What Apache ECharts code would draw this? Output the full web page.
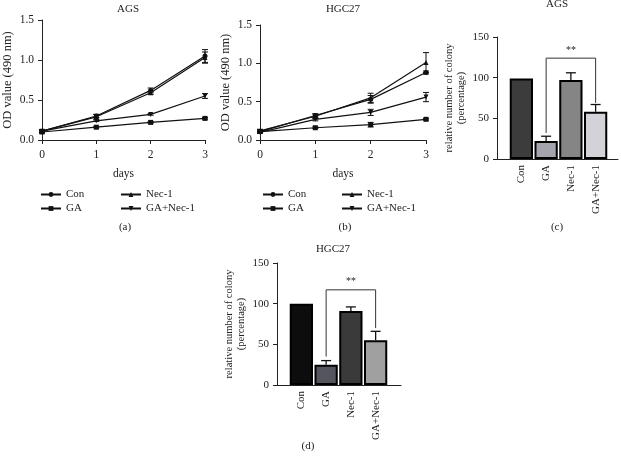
<!DOCTYPE html>
<html><head><meta charset="utf-8">
<script src="https://cdn.jsdelivr.net/npm/echarts@6/dist/echarts.min.js"></script>
<style>html,body{margin:0;padding:0;background:#fff}#c{width:621px;height:459px}</style>
</head><body><div id="c"></div>
<script>
// ---- data ----
const days = [0, 1, 2, 3];
const lineNames = ['Con', 'GA', 'Nec-1', 'GA+Nec-1'];
// panel (a) AGS
const aCon = [0.11, 0.30, 0.62, 1.05];
const aGA = [0.10, 0.16, 0.22, 0.27];
const aNec = [0.11, 0.29, 0.59, 1.03];
const aGANec = [0.11, 0.24, 0.32, 0.55];
const aConErr = [0.02, 0.02, 0.03, 0.08];
const aGAErr = [0.01, 0.01, 0.01, 0.01];
const aNecErr = [0.02, 0.03, 0.02, 0.07];
const aGANecErr = [0.01, 0.01, 0.01, 0.03];
// panel (b) HGC27
const bCon = [0.11, 0.32, 0.53, 0.88];
const bGA = [0.11, 0.16, 0.20, 0.27];
const bNec = [0.12, 0.31, 0.55, 1.01];
const bGANec = [0.10, 0.27, 0.36, 0.56];
const bConErr = [0.02, 0.02, 0.05, 0.02];
const bGAErr = [0.01, 0.01, 0.03, 0.01];
const bNecErr = [0.02, 0.03, 0.06, 0.13];
const bGANecErr = [0.01, 0.02, 0.04, 0.06];
// bar panels
const barCats = ['Con', 'GA', 'Nec-1', 'GA+Nec-1'];
const cVals = [99, 22, 97, 58];
const cErr = [0, 6, 9, 9];
const cBracket = [1, 3, 32, 69, 124]; // from cat, to cat, left end, right end, top
const dVals = [100, 25, 91, 55];
const dErr = [0, 5, 5, 11];
const dBracket = [1, 3, 35, 70, 117];
const cColors = ['#3c3c3c', '#a4a4ac', '#858585', '#d2d2d8'];
const dColors = ['#0d0d0d', '#55555d', '#3a3a3a', '#a0a0a0'];
const odTicks = [0, 0.5, 1.0, 1.5];
const barTicks = [0, 50, 100, 150];

const FONT = 'Liberation Serif';
const TXT = '#222';
const symbols = {
  'Con': 'circle', 'GA': 'rect', 'Nec-1': 'triangle',
  'GA+Nec-1': 'path://M0,0 L10,0 L5,9 Z'
};

function lineSeries(name, vals, idx) {
  return {
    type: 'line', name: name, xAxisIndex: idx, yAxisIndex: idx,
    data: days.map((d, i) => [d, vals[i]]),
    symbol: symbols[name], symbolSize: 5,
    lineStyle: { color: '#111', width: 1.2 }, itemStyle: { color: '#111' },
    animation: false, z: 3
  };
}
function errSeries(vals, errs, idx) {
  return {
    type: 'custom', xAxisIndex: idx, yAxisIndex: idx, silent: true, animation: false,
    data: days.map((d, i) => [d, vals[i], errs[i]]),
    renderItem: function (params, api) {
      const x = api.value(0), y = api.value(1), e = api.value(2);
      const p1 = api.coord([x, y + e]), p2 = api.coord([x, y - e]);
      const w = 3;
      const st = { stroke: '#111', lineWidth: 1 };
      return { type: 'group', children: [
        { type: 'line', shape: { x1: p1[0], y1: p1[1], x2: p2[0], y2: p2[1] }, style: st },
        { type: 'line', shape: { x1: p1[0] - w, y1: p1[1], x2: p1[0] + w, y2: p1[1] }, style: st },
        { type: 'line', shape: { x1: p2[0] - w, y1: p2[1], x2: p2[0] + w, y2: p2[1] }, style: st }
      ]};
    }, z: 2
  };
}
function barErrSeries(vals, errs, idx) {
  return {
    type: 'custom', xAxisIndex: idx, yAxisIndex: idx, silent: true, animation: false,
    data: vals.map((v, i) => [i, v, errs[i]]),
    renderItem: function (params, api) {
      const x = api.value(0), y = api.value(1), e = api.value(2);
      if (!e) return null;
      const p1 = api.coord([x, y]), p2 = api.coord([x, y + e]);
      const st = { stroke: '#111', lineWidth: 1.3 };
      return { type: 'group', children: [
        { type: 'line', shape: { x1: p1[0], y1: p1[1], x2: p2[0], y2: p2[1] }, style: st },
        { type: 'line', shape: { x1: p2[0] - 5, y1: p2[1], x2: p2[0] + 5, y2: p2[1] }, style: st }
      ]};
    }, z: 1
  };
}
function bracketSeries(b, idx) {
  return {
    type: 'custom', xAxisIndex: idx, yAxisIndex: idx, silent: true, animation: false,
    data: [b],
    renderItem: function (params, api) {
      const a = api.coord([api.value(0), api.value(2)]);
      const c = api.coord([api.value(1), api.value(3)]);
      const t1 = api.coord([api.value(0), api.value(4)]);
      const t2 = api.coord([api.value(1), api.value(4)]);
      return { type: 'group', children: [
        { type: 'polyline', shape: { points: [a, t1, t2, c] }, style: { stroke: '#333', lineWidth: 1, fill: null } },
        { type: 'text', style: { text: '**', x: (t1[0] + t2[0]) / 2, y: t1[1] - 3, align: 'center', verticalAlign: 'bottom', font: '10px ' + FONT, fill: TXT } }
      ]};
    }, z: 3
  };
}
function barSeries(vals, colors, idx) {
  return {
    type: 'bar', xAxisIndex: idx, yAxisIndex: idx, animation: false, barCategoryGap: '6%',
    data: vals.map((v, i) => ({ value: v, itemStyle: { color: colors[i] } })),
    itemStyle: { borderColor: '#000', borderWidth: 2 }, z: 2
  };
}

const axLine = { show: true, lineStyle: { color: '#222', width: 1 } };
const axTick = { show: true, length: 4, lineStyle: { color: '#222' } };
const axLabel = { color: TXT, fontFamily: FONT, fontSize: 11.5 };

function odY(name) {
  return {
    type: 'value', min: 0, max: 1.5, interval: 0.5,
    axisLine: axLine, axisTick: axTick, splitLine: { show: false },
    axisLabel: Object.assign({}, axLabel, { formatter: v => odTicks.includes(v) ? v.toFixed(1) : '' }),
    name: name, nameLocation: 'middle', nameGap: 28,
    nameTextStyle: { color: TXT, fontFamily: FONT, fontSize: 12.5 }
  };
}
function daysX() {
  return {
    type: 'value', min: 0, max: 3, interval: 1,
    axisLine: axLine, axisTick: axTick, splitLine: { show: false },
    axisLabel: Object.assign({}, axLabel, { margin: 9 }),
    name: 'days', nameLocation: 'middle', nameGap: 28,
    nameTextStyle: { color: TXT, fontFamily: FONT, fontSize: 11.5 }
  };
}
function barYOuter() {
  return {
    type: 'value', min: 0, max: 150, interval: 50,
    axisLine: axLine, axisTick: axTick, splitLine: { show: false },
    axisLabel: Object.assign({}, axLabel, { fontSize: 11, formatter: v => barTicks.includes(v) ? String(v) : '' }),
    name: 'relative number of colony\n(percentage)', nameLocation: 'middle', nameGap: 30,
    nameTextStyle: { color: TXT, fontFamily: FONT, fontSize: 10.5, lineHeight: 12 }
  };
}
function barYInner() {
  return { type: 'value', min: 0, max: 150, show: false };
}
function barXOuter() {
  return { type: 'value', min: 0, max: 1, axisLine: axLine, axisTick: { show: false }, axisLabel: { show: false }, splitLine: { show: false } };
}
function barXInner() {
  return {
    type: 'category', data: barCats, axisLine: { show: false }, axisTick: { show: false },
    axisLabel: Object.assign({}, axLabel, { rotate: 90, fontSize: 11, margin: 6, interval: 0 })
  };
}
function legend(data, left, top) {
  return {
    data: data, left: left, top: top, orient: 'vertical', itemWidth: 20, itemHeight: 6, itemGap: 3,
    padding: 0, selectedMode: false,
    textStyle: { color: TXT, fontFamily: FONT, fontSize: 11 }
  };
}
function txt(text, left, top, size) {
  return { text: text, left: left, top: top, textAlign: 'center', padding: 0,
    textStyle: { color: TXT, fontFamily: FONT, fontSize: size || 11, fontWeight: 'normal' } };
}

const option = {
  backgroundColor: '#fff',
  title: [
    txt('AGS', 128, 4), txt('HGC27', 343, 4), txt('AGS', 557, -1),
    txt('HGC27', 333, 244),
    txt('(a)', 125, 222), txt('(b)', 345, 222), txt('(c)', 557, 222), txt('(d)', 308, 441)
  ],
  legend: [
    legend(['Con', 'GA'], 40, 189), legend(['Nec-1', 'GA+Nec-1'], 120, 189),
    legend(['Con', 'GA'], 262, 189), legend(['Nec-1', 'GA+Nec-1'], 341, 189)
  ],
  grid: [
    { left: 40, top: 20, width: 165, height: 120 },
    { left: 260, top: 25, width: 166, height: 115 },
    { left: 497, top: 37, width: 121, height: 122 },
    { left: 509, top: 37, width: 99, height: 122 },
    { left: 277, top: 263, width: 124, height: 122 },
    { left: 289, top: 263, width: 99, height: 122 }
  ],
  xAxis: [
    Object.assign(daysX(), { gridIndex: 0 }),
    Object.assign(daysX(), { gridIndex: 1 }),
    Object.assign(barXOuter(), { gridIndex: 2 }),
    Object.assign(barXInner(), { gridIndex: 3 }),
    Object.assign(barXOuter(), { gridIndex: 4 }),
    Object.assign(barXInner(), { gridIndex: 5 })
  ],
  yAxis: [
    Object.assign(odY('OD value (490 nm)'), { gridIndex: 0 }),
    Object.assign(odY('OD value (490 nm)'), { gridIndex: 1 }),
    Object.assign(barYOuter(), { gridIndex: 2 }),
    Object.assign(barYInner(), { gridIndex: 3 }),
    Object.assign(barYOuter(), { gridIndex: 4 }),
    Object.assign(barYInner(), { gridIndex: 5 })
  ],
  series: [
    lineSeries('Con', aCon, 0), lineSeries('GA', aGA, 0), lineSeries('Nec-1', aNec, 0), lineSeries('GA+Nec-1', aGANec, 0),
    errSeries(aCon, aConErr, 0), errSeries(aGA, aGAErr, 0), errSeries(aNec, aNecErr, 0), errSeries(aGANec, aGANecErr, 0),
    lineSeries('Con', bCon, 1), lineSeries('GA', bGA, 1), lineSeries('Nec-1', bNec, 1), lineSeries('GA+Nec-1', bGANec, 1),
    errSeries(bCon, bConErr, 1), errSeries(bGA, bGAErr, 1), errSeries(bNec, bNecErr, 1), errSeries(bGANec, bGANecErr, 1),
    barSeries(cVals, cColors, 3), barErrSeries(cVals, cErr, 3), bracketSeries(cBracket, 3),
    barSeries(dVals, dColors, 5), barErrSeries(dVals, dErr, 5), bracketSeries(dBracket, 5)
  ]
};
const chart = echarts.init(document.getElementById('c'), null, { renderer: 'canvas' });
chart.setOption(option);
</script>
</body></html>
